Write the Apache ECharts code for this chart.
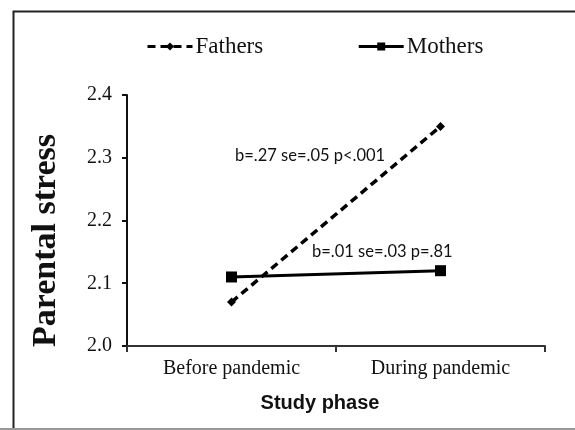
<!DOCTYPE html>
<html><head><meta charset="utf-8">
<script src="https://cdn.jsdelivr.net/npm/echarts@6/dist/echarts.min.js"></script>
<style>html,body{margin:0;padding:0;background:#fff}#c{width:575px;height:430px}</style>
</head><body><div id="c"></div>
<script>
const categories = ['Before pandemic', 'During pandemic'];
const fathers = [2.07, 2.35];
const mothers = [2.11, 2.12];
const yTicks = [2.0, 2.1, 2.2, 2.3, 2.4];
const annotFathers = 'b=.27 se=.05 p<.001';
const annotMothers = 'b=.01 se=.03 p=.81';

const chart = echarts.init(document.getElementById('c'));
const serif = '"Liberation Serif", "Times New Roman", serif';
chart.setOption({
  animation: false,
  backgroundColor: '#fff',
  grid: { left: 127, right: 30, top: 95, bottom: 84 },
  legend: {
    top: 30, left: 141, itemGap: 94, itemWidth: 45, itemHeight: 10,
    lineStyle: { width: 3 },
    textStyle: { fontFamily: serif, fontSize: 23, color: '#111', padding: [0, 0, 0, -2] },
    data: ['Fathers', 'Mothers']
  },
  xAxis: {
    type: 'category', data: categories,
    name: 'Study phase', nameLocation: 'middle', nameGap: 47,
    nameTextStyle: { fontFamily: '"Liberation Sans", Arial, sans-serif', fontWeight: 'bold', fontSize: 20, color: '#111', padding: [0, 32, 0, 0] },
    axisLine: { lineStyle: { color: '#333', width: 2 } },
    axisTick: { show: true, length: 6, lineStyle: { color: '#333', width: 2 } },
    axisLabel: { fontFamily: serif, fontSize: 20, color: '#111', margin: 13 }
  },
  yAxis: {
    type: 'value', min: yTicks[0], max: yTicks[yTicks.length - 1], interval: 0.1,
    name: 'Parental stress', nameLocation: 'middle', nameGap: 64,
    nameTextStyle: { fontFamily: serif, fontWeight: 'bold', fontSize: 34, color: '#111', padding: [0, 40, 0, 0] },
    splitLine: { show: false },
    axisLine: { show: true, lineStyle: { color: '#111', width: 2 } },
    axisTick: { show: true, length: 5, lineStyle: { color: '#111', width: 2 } },
    axisLabel: { fontFamily: serif, fontSize: 20, color: '#111', margin: 15, formatter: v => v.toFixed(1) }
  },
  series: [
    {
      name: 'Fathers', type: 'line', data: fathers,
      symbol: 'diamond', symbolSize: 9,
      lineStyle: { color: '#000', width: 3.5, type: [8, 5] },
      itemStyle: { color: '#000' }
    },
    {
      name: 'Mothers', type: 'line', data: mothers,
      symbol: 'rect', symbolSize: 11,
      lineStyle: { color: '#000', width: 3 },
      itemStyle: { color: '#000' }
    }
  ],
  graphic: [
    { type: 'rect', left: 11, top: 9, shape: { width: 600, height: 420 },
      style: { fill: 'none', stroke: '#222', lineWidth: 2 }, silent: true },
    { type: 'rect', left: 0, top: 428, shape: { width: 575, height: 2 },
      style: { fill: '#999' }, silent: true },
    { type: 'text', left: 235, top: 147,
      style: { text: annotFathers, font: '16.5px Lato, "Open Sans", sans-serif', fill: '#111' } },
    { type: 'text', left: 312, top: 243,
      style: { text: annotMothers, font: '16.5px Lato, "Open Sans", sans-serif', fill: '#111' } }
  ]
});
</script></body></html>
